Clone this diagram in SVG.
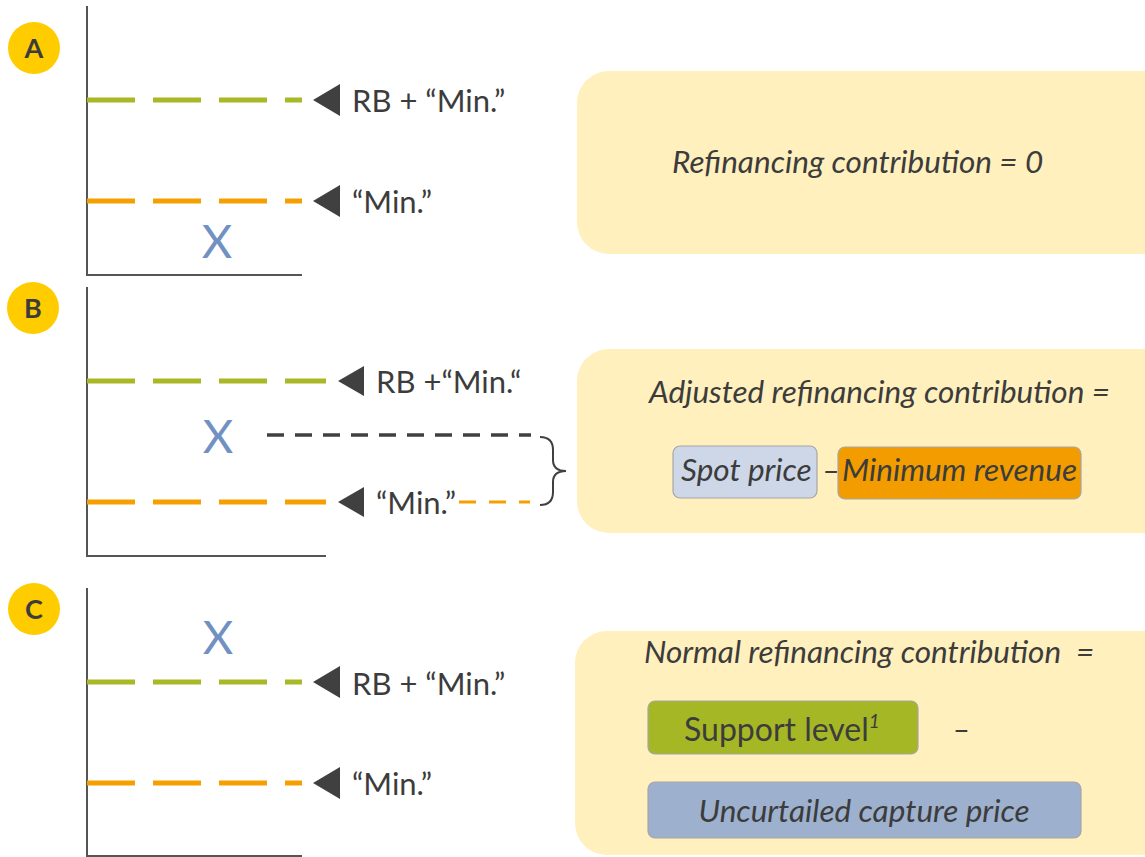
<svg xmlns="http://www.w3.org/2000/svg" width="1145" height="857" viewBox="0 0 1145 857">
<style>
.t{font-family:Lato,"Liberation Sans",sans-serif;fill:#3c3c3c}
.lbl{font-size:31px}
.it{font-style:italic;font-size:31.5px}
.badge{fill:#FFCC00}
.bl{font-family:Lato,"Liberation Sans",sans-serif;font-weight:bold;font-size:27px;fill:#3c3c3c;text-anchor:middle}
.axis{stroke:#555;stroke-width:2;fill:none}
.gl{stroke:#A8B826;stroke-width:5;stroke-dasharray:48 18;fill:none}
.ol{stroke:#F5A000;stroke-width:5;stroke-dasharray:48 18;fill:none}
.tri{fill:#404040}
.x{font-family:Lato,"Liberation Sans",sans-serif;font-size:47px;fill:#7191C2;text-anchor:middle}
.panel{fill:#FFF0BE}
.box{stroke:#A6A6A6;stroke-width:1.2}
</style>
<rect width="1145" height="857" fill="#fff"/>

<g id="panel-a">
<circle class="badge" cx="34" cy="48" r="26"/>
<text class="bl" x="34" y="58">A</text>
<path class="axis" d="M87 6V275H302"/>
<path class="gl" d="M87 100H302"/>
<path class="ol" d="M87 201H302"/>
<path class="tri" d="M313 100L340 84V116Z"/>
<path class="tri" d="M313 201L340 185V217Z"/>
<text class="t lbl" x="352" y="112">RB + “Min.”</text>
<text class="t lbl" x="352" y="213">“Min.”</text>
<text class="x" x="217" y="258">X</text>
</g>

<g id="panel-b">
<circle class="badge" cx="33" cy="308" r="26"/>
<text class="bl" x="33" y="318">B</text>
<path class="axis" d="M87 287V556H326"/>
<path class="gl" d="M87 381H326"/>
<path class="ol" d="M87 502H326"/>
<path class="tri" d="M338 381L364 366V396Z"/>
<path class="tri" d="M338 502L364 487V517Z"/>
<text class="t lbl" x="376" y="393">RB +“Min.“</text>
<text class="t lbl" x="376" y="514">“Min.”</text>
<text class="x" x="218" y="453">X</text>
</g>

<g id="panel-c">
<circle class="badge" cx="34" cy="609" r="26"/>
<text class="bl" x="34" y="619">C</text>
<path class="axis" d="M87 588V856H302"/>
<path class="gl" d="M87 682H302"/>
<path class="ol" d="M87 783H302"/>
<path class="tri" d="M313 682L340 666V698Z"/>
<path class="tri" d="M313 783L340 767V799Z"/>
<text class="t lbl" x="352" y="695">RB + “Min.”</text>
<text class="t lbl" x="352" y="795">“Min.”</text>
<text class="x" x="218" y="654">X</text>
</g>

<g id="connectors">
<path d="M267 435H531" stroke="#404040" stroke-width="3.5" stroke-dasharray="17 11" fill="none"/>
<path d="M459 502H530" stroke="#F5A000" stroke-width="3" stroke-dasharray="17 13" fill="none"/>
<path d="M540 437Q553 437 553 450V460Q553 471 566 471Q553 471 553 482V492Q553 505 540 505" stroke="#404040" stroke-width="2" fill="none"/>
</g>

<g id="box-a">
<rect class="panel" x="577" y="71" width="600" height="183" rx="32"/>
<text class="t it" x="672" y="173">Refinancing contribution = 0</text>
</g>

<g id="box-b">
<rect class="panel" x="577" y="349" width="600" height="184" rx="32"/>
<text class="t it" x="649" y="403">Adjusted refinancing contribution =</text>
<rect class="box" x="673" y="446" width="144" height="52" rx="7" fill="#CDD7E7"/>
<text class="t it" x="681" y="481">Spot price</text>
<text class="t it" x="822" y="481">–</text>
<rect class="box" x="838" y="447" width="243" height="52" rx="7" fill="#F29C00"/>
<text class="t it" x="842" y="481">Minimum revenue</text>
</g>

<g id="box-c">
<rect class="panel" x="575" y="631" width="600" height="224" rx="32"/>
<text class="t it" x="644" y="663" xml:space="preserve">Normal refinancing contribution  =</text>
<rect class="box" x="648" y="701" width="270" height="53" rx="7" fill="#A6B726"/>
<text class="t" x="684" y="741" font-size="32">Support level<tspan font-style="italic" font-size="19" dy="-13">1</tspan></text>
<text class="t" x="953" y="740" font-size="29">–</text>
<rect class="box" x="648" y="782" width="433" height="56" rx="7" fill="#9DB0CE"/>
<text class="t it" x="864" y="822" text-anchor="middle">Uncurtailed capture price</text>
</g>
</svg>
